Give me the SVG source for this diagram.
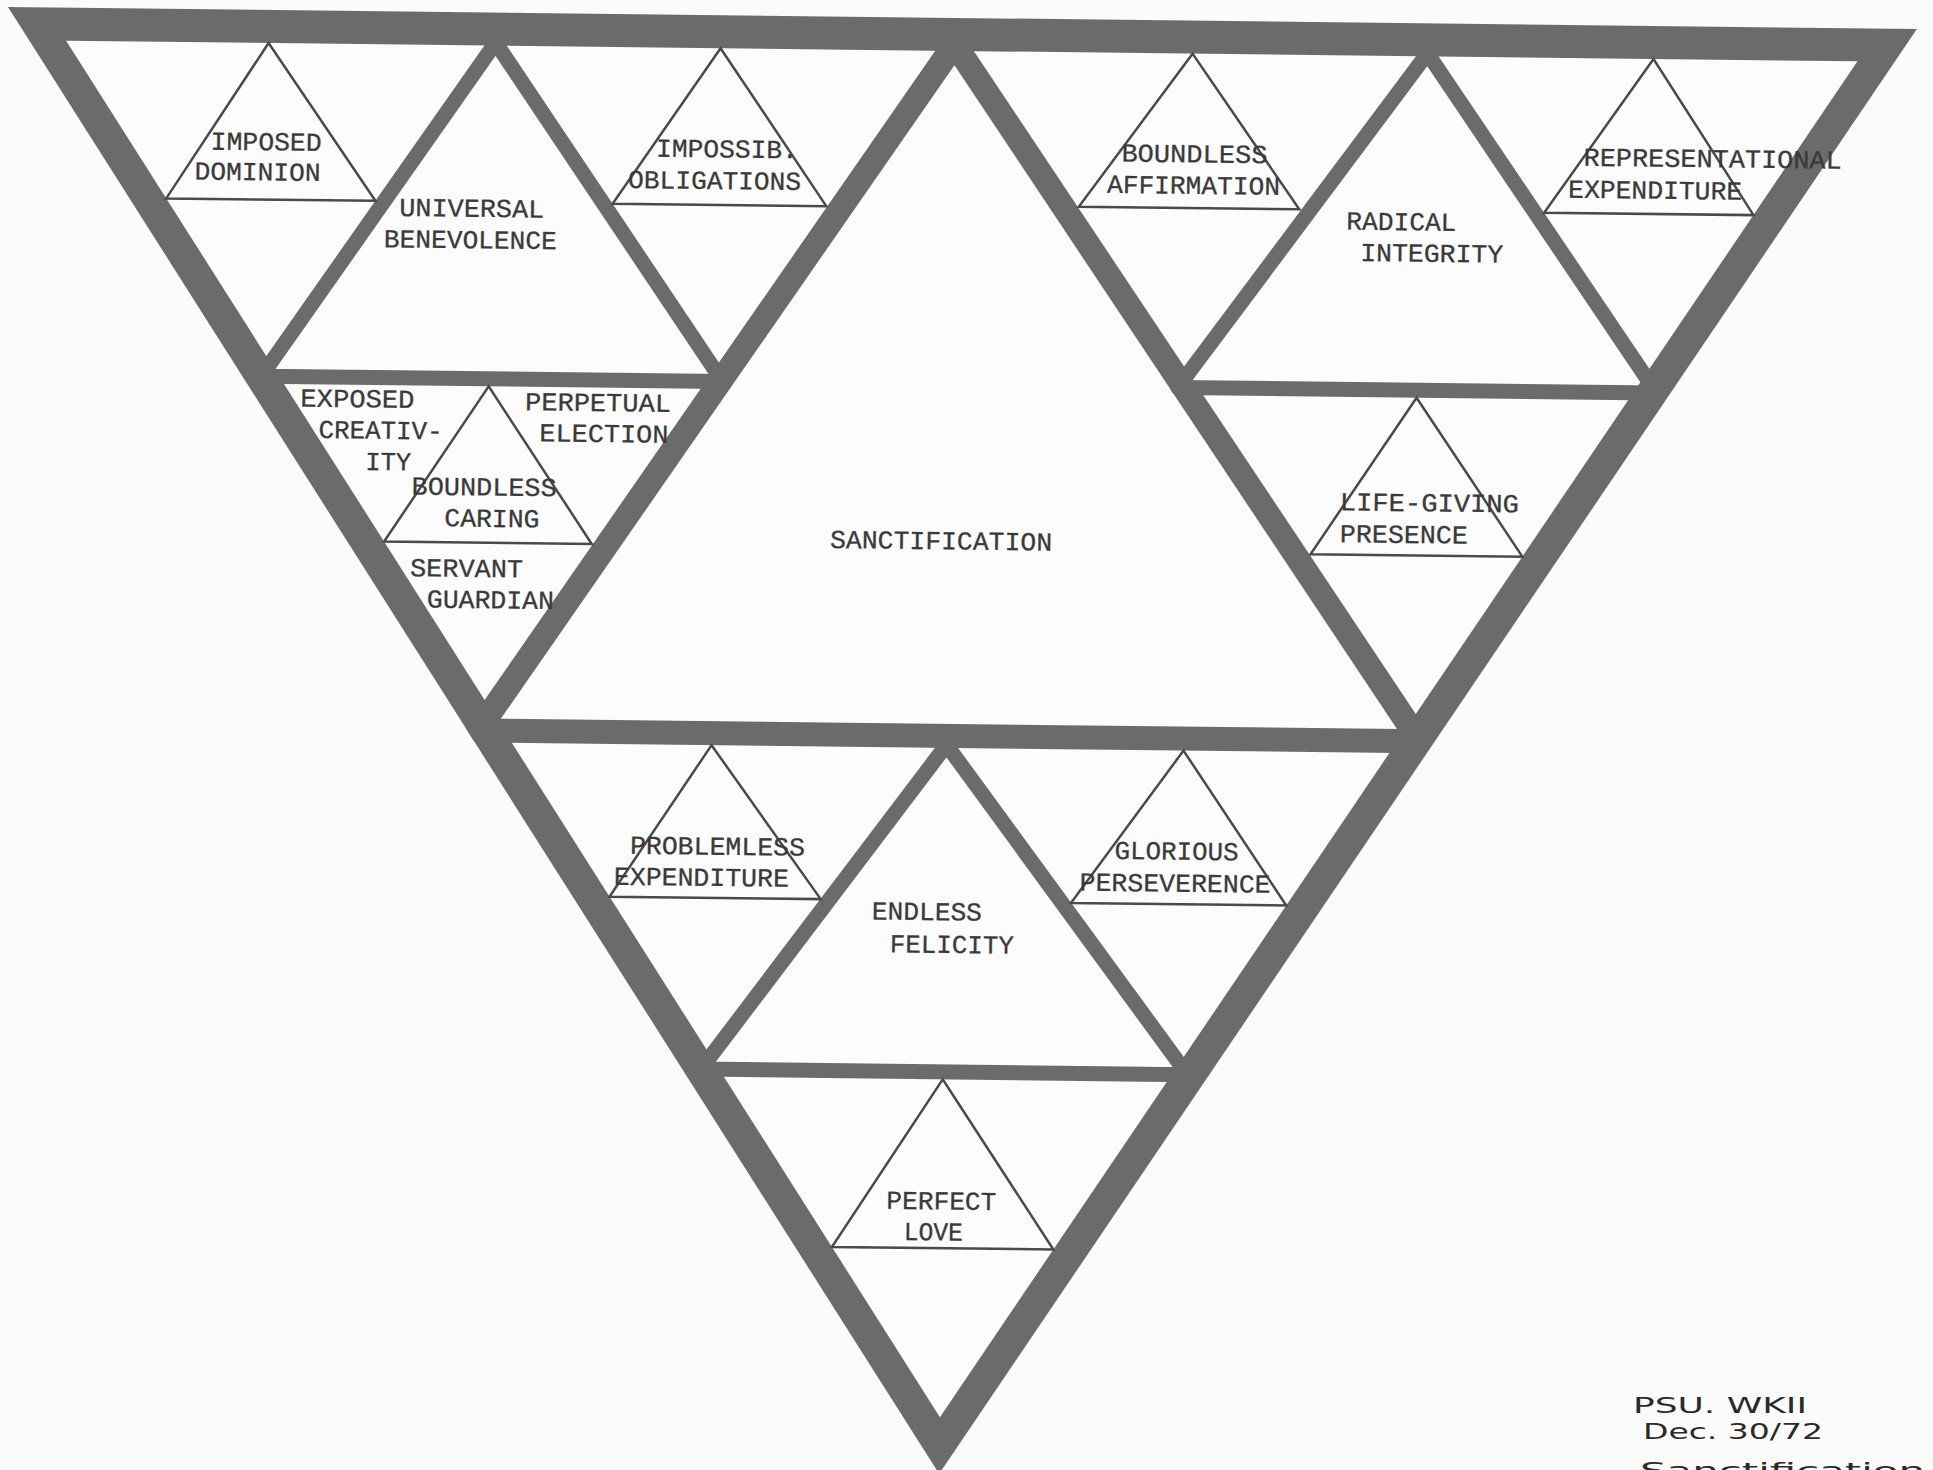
<svg xmlns="http://www.w3.org/2000/svg" width="1933" height="1470" viewBox="0 0 1933 1470">
<defs>
<style>
.band{fill:#6b6b6b}
.white{fill:#fcfcfc}
.bar1{fill:none;stroke:#6b6b6b;stroke-width:24;stroke-linejoin:round}
.bar2{fill:none;stroke:#6b6b6b;stroke-width:15;stroke-linejoin:round}
.thin{fill:none;stroke:#4a4a4a;stroke-width:2.5;stroke-linejoin:miter}
.t{font-family:"Liberation Mono","Courier New",monospace;font-size:26px;fill:#3a3a3a;stroke:#3a3a3a;stroke-width:0.3;text-anchor:middle}
.hand{font-family:"DejaVu Sans",sans-serif;font-size:21px;fill:#2a2a2a}
</style>
<clipPath id="outerClip"><polygon points="0,0 1909,0 948,1456"/></clipPath>
</defs>
<rect width="1933" height="1470" fill="#fbfbfb"/>
<g transform="translate(8,7) rotate(0.66)">
  <g id="frame">
    <polygon class="band" points="0,0 1909,0 948,1456"/>
    <polygon class="white" points="58.5,33 1850,33 948.1,1399.3"/>
  </g>
  <g id="connectors" clip-path="url(#outerClip)">
    <polygon class="bar1" points="947,26 478.4,718 1420,718"/>
    <polygon class="bar2" points="488,30 257.5,366.3 718.9,366.3"/>
    <polygon class="bar2" points="1420,30 1174,367 1653,367"/>
    <polygon class="bar2" points="947,727 705.2,1054 1191.7,1054"/>
  </g>
  <g id="imposed-dominion">
    <path class="thin" d="M261,33 L160.4,189.6 L369.6,189.6 Z"/>
    <text class="t" x="259.7" y="140.3" textLength="111" lengthAdjust="spacingAndGlyphs">IMPOSED</text>
    <text class="t" x="251.6" y="170.4" textLength="126" lengthAdjust="spacingAndGlyphs">DOMINION</text>
  </g>
  <g id="universal-benevolence">
    <text class="t" x="466.1" y="204.4" textLength="145" lengthAdjust="spacingAndGlyphs">UNIVERSAL</text>
    <text class="t" x="465" y="235.9" textLength="173" lengthAdjust="spacingAndGlyphs">BENEVOLENCE</text>
  </g>
  <g id="impossible-obligations">
    <path class="thin" d="M713,33 L606.8,189.7 L820.5,189.7 Z"/>
    <text class="t" x="720.6" y="142.2" textLength="142" lengthAdjust="spacingAndGlyphs">IMPOSSIB.</text>
    <text class="t" x="708.6" y="173.9" textLength="173" lengthAdjust="spacingAndGlyphs">OBLIGATIONS</text>
  </g>
  <g id="exposed-creativity">
    <text class="t" x="353.9" y="396.2" textLength="114" lengthAdjust="spacingAndGlyphs">EXPOSED</text>
    <text class="t" x="377.4" y="427.4" textLength="124" lengthAdjust="spacingAndGlyphs">CREATIV-</text>
    <text class="t" x="385.5" y="458.8" textLength="46" lengthAdjust="spacingAndGlyphs">ITY</text>
  </g>
  <g id="perpetual-election">
    <text class="t" x="594.6" y="397.2" textLength="146" lengthAdjust="spacingAndGlyphs">PERPETUAL</text>
    <text class="t" x="600.8" y="428.2" textLength="129" lengthAdjust="spacingAndGlyphs">ELECTION</text>
  </g>
  <g id="boundless-caring">
    <path class="thin" d="M485,373.8 L382.2,530.2 L589.9,530.2 Z"/>
    <text class="t" x="481.7" y="482.9" textLength="145" lengthAdjust="spacingAndGlyphs">BOUNDLESS</text>
    <text class="t" x="489.8" y="514.3" textLength="95" lengthAdjust="spacingAndGlyphs">CARING</text>
  </g>
  <g id="servant-guardian">
    <text class="t" x="465" y="564.5" textLength="113" lengthAdjust="spacingAndGlyphs">SERVANT</text>
    <text class="t" x="489.2" y="595.7" textLength="127" lengthAdjust="spacingAndGlyphs">GUARDIAN</text>
  </g>
  <g id="sanctification">
    <text class="t" x="939.2" y="531.5" textLength="222" lengthAdjust="spacingAndGlyphs">SANCTIFICATION</text>
  </g>
  <g id="boundless-affirmation">
    <path class="thin" d="M1185,33 L1073,187.4 L1293.5,187.4 Z"/>
    <text class="t" x="1188.1" y="141.7" textLength="146" lengthAdjust="spacingAndGlyphs">BOUNDLESS</text>
    <text class="t" x="1187.5" y="173.2" textLength="173" lengthAdjust="spacingAndGlyphs">AFFIRMATION</text>
  </g>
  <g id="radical-integrity">
    <text class="t" x="1395.8" y="207.2" textLength="110" lengthAdjust="spacingAndGlyphs">RADICAL</text>
    <text class="t" x="1426.5" y="238.4" textLength="143" lengthAdjust="spacingAndGlyphs">INTEGRITY</text>
  </g>
  <g id="representational-expenditure">
    <path class="thin" d="M1646,33 L1538.4,188 L1747.8,188 Z"/>
    <text class="t" x="1706.3" y="140.6" textLength="258" lengthAdjust="spacingAndGlyphs">REPRESENTATIONAL</text>
    <text class="t" x="1649.2" y="172.7" textLength="174" lengthAdjust="spacingAndGlyphs">EXPENDITURE</text>
  </g>
  <g id="life-giving-presence">
    <path class="thin" d="M1413,374.5 L1308.7,532.2 L1520.6,532.2 Z"/>
    <text class="t" x="1427" y="488" textLength="179" lengthAdjust="spacingAndGlyphs">LIFE-GIVING</text>
    <text class="t" x="1401.9" y="519.8" textLength="128" lengthAdjust="spacingAndGlyphs">PRESENCE</text>
  </g>
  <g id="problemless-expenditure">
    <path class="thin" d="M712,730 L611.7,882.7 L822.9,882.7 Z"/>
    <text class="t" x="719.1" y="839.5" textLength="175" lengthAdjust="spacingAndGlyphs">PROBLEMLESS</text>
    <text class="t" x="703.4" y="870.7" textLength="175" lengthAdjust="spacingAndGlyphs">EXPENDITURE</text>
  </g>
  <g id="endless-felicity">
    <text class="t" x="929.3" y="902.4" textLength="110" lengthAdjust="spacingAndGlyphs">ENDLESS</text>
    <text class="t" x="954.6" y="935.1" textLength="124" lengthAdjust="spacingAndGlyphs">FELICITY</text>
  </g>
  <g id="glorious-perseverence">
    <path class="thin" d="M1184,730 L1073.2,883.7 L1288.5,883.7 Z"/>
    <text class="t" x="1178.2" y="839.1" textLength="124" lengthAdjust="spacingAndGlyphs">GLORIOUS</text>
    <text class="t" x="1177.1" y="871.2" textLength="191" lengthAdjust="spacingAndGlyphs">PERSEVERENCE</text>
  </g>
  <g id="perfect-love">
    <path class="thin" d="M947,1061.5 L838.1,1230.4 L1059.6,1230.4 Z"/>
    <text class="t" x="947.1" y="1191.6" textLength="110" lengthAdjust="spacingAndGlyphs">PERFECT</text>
    <text class="t" x="939.4" y="1222.6" textLength="59" lengthAdjust="spacingAndGlyphs">LOVE</text>
  </g>
</g>
<g id="note">
  <text class="hand" x="1633" y="1413" textLength="174" lengthAdjust="spacingAndGlyphs">PSU. WKII</text>
  <text class="hand" x="1643" y="1439" textLength="180" lengthAdjust="spacingAndGlyphs">Dec. 30/72</text>
  <text class="hand" x="1640" y="1478" textLength="285" lengthAdjust="spacingAndGlyphs">Sanctification</text>
</g>
</svg>
